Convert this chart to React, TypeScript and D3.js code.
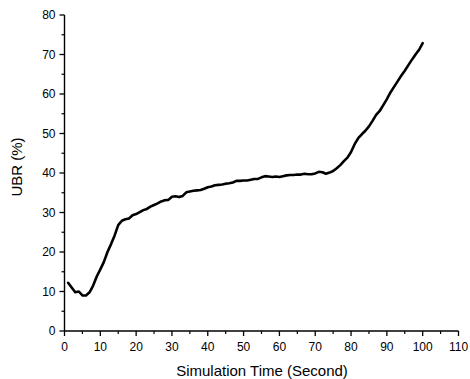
import React from "react";
import * as d3 from "d3";

const times: number[] = [
  1, 2, 3, 4, 5, 6, 7, 8, 9, 10, 11, 12, 13, 14, 15, 16, 17, 18, 19, 20,
  21, 22, 23, 24, 25, 26, 27, 28, 29, 30, 31, 32, 33, 34, 35, 36, 37, 38, 39, 40,
  41, 42, 43, 44, 45, 46, 47, 48, 49, 50, 51, 52, 53, 54, 55, 56, 57, 58, 59, 60,
  61, 62, 63, 64, 65, 66, 67, 68, 69, 70, 71, 72, 73, 74, 75, 76, 77, 78, 79, 80,
  81, 82, 83, 84, 85, 86, 87, 88, 89, 90, 91, 92, 93, 94, 95, 96, 97, 98, 99, 100,
];
const ubr: number[] = [
  12.2, 11.0, 9.8, 10.0, 9.0, 9.0, 9.8, 11.5, 13.8, 15.6,
  17.5, 20.0, 22.0, 24.2, 26.8, 27.9, 28.3, 28.5, 29.3, 29.6,
  30.1, 30.6, 30.9, 31.5, 31.9, 32.3, 32.8, 33.1, 33.2, 34.0,
  34.1, 33.9, 34.2, 35.1, 35.3, 35.5, 35.6, 35.7, 36.0, 36.4,
  36.6, 36.9, 37.0, 37.1, 37.3, 37.4, 37.6, 38.0, 38.0, 38.1,
  38.1, 38.3, 38.5, 38.5, 38.9, 39.2, 39.1, 39.0, 39.1, 39.0,
  39.2, 39.4, 39.5, 39.5, 39.6, 39.6, 39.8, 39.7, 39.7, 39.9,
  40.3, 40.2, 39.8, 40.1, 40.5, 41.2, 42.0, 43.0, 43.9, 45.3,
  47.3, 48.8, 49.8, 50.7, 51.8, 53.2, 54.7, 55.7, 57.2, 58.7,
  60.4, 61.8, 63.2, 64.6, 65.9, 67.3, 68.7, 70.0, 71.2, 72.9,
];
const xTicks: number[] = [0, 10, 20, 30, 40, 50, 60, 70, 80, 90, 100, 110];
const xMinor: number[] = [5, 15, 25, 35, 45, 55, 65, 75, 85, 95, 105];
const yTicks: number[] = [0, 10, 20, 30, 40, 50, 60, 70, 80];
const yMinor: number[] = [5, 15, 25, 35, 45, 55, 65, 75];
const xTitle = "Simulation Time (Second)";
const yTitle = "UBR (%)";

export default function App() {
  const W = 470, H = 379;
  const x = d3.scaleLinear().domain([0, 110]).range([64.5, 458.5]);
  const y = d3.scaleLinear().domain([0, 80]).range([331, 15]);
  const pts = times.map((t, i) => [t, ubr[i]] as [number, number]);
  const line = d3
    .line<[number, number]>()
    .x((d) => x(d[0]))
    .y((d) => y(d[1]))
    .curve(d3.curveLinear);
  const font = "'Liberation Sans', Arial, sans-serif";
  const x0 = x(0), y0 = y(0);
  return (
    <svg
      width={W}
      height={H}
      style={{ position: "absolute", left: 0, top: 0, background: "#fff" }}
      fontFamily={font}
    >
      <rect x={0} y={0} width={W} height={H} fill="#fff" />
      <line x1={x0} x2={x(110)} y1={y0} y2={y0} stroke="#000" strokeWidth={1.4} />
      <line x1={x0} x2={x0} y1={y(80)} y2={y0} stroke="#000" strokeWidth={1.4} />
      {xTicks.map((t) => (
        <g key={"xt" + t}>
          <line x1={x(t)} x2={x(t)} y1={y0} y2={y0 + 5} stroke="#000" strokeWidth={1.3} />
          <text x={x(t)} y={y0 + 20} textAnchor="middle" fontSize={12} fill="#000">
            {t}
          </text>
        </g>
      ))}
      {xMinor.map((t) => (
        <line key={"xm" + t} x1={x(t)} x2={x(t)} y1={y0} y2={y0 + 3} stroke="#000" strokeWidth={1.2} />
      ))}
      {yTicks.map((v) => (
        <g key={"yt" + v}>
          <line x1={x0 - 5} x2={x0} y1={y(v)} y2={y(v)} stroke="#000" strokeWidth={1.3} />
          <text x={x0 - 9} y={y(v) + 4.3} textAnchor="end" fontSize={12} fill="#000">
            {v}
          </text>
        </g>
      ))}
      {yMinor.map((v) => (
        <line key={"ym" + v} x1={x0 - 3} x2={x0} y1={y(v)} y2={y(v)} stroke="#000" strokeWidth={1.2} />
      ))}
      <text x={262} y={376} textAnchor="middle" fontSize={15} fill="#000">
        {xTitle}
      </text>
      <text
        transform={`translate(22,167) rotate(-90)`}
        textAnchor="middle"
        fontSize={15}
        fill="#000"
      >
        {yTitle}
      </text>
      <path
        d={line(pts) || ""}
        fill="none"
        stroke="#000"
        strokeWidth={2.6}
        strokeLinejoin="round"
        strokeLinecap="round"
      />
    </svg>
  );
}
